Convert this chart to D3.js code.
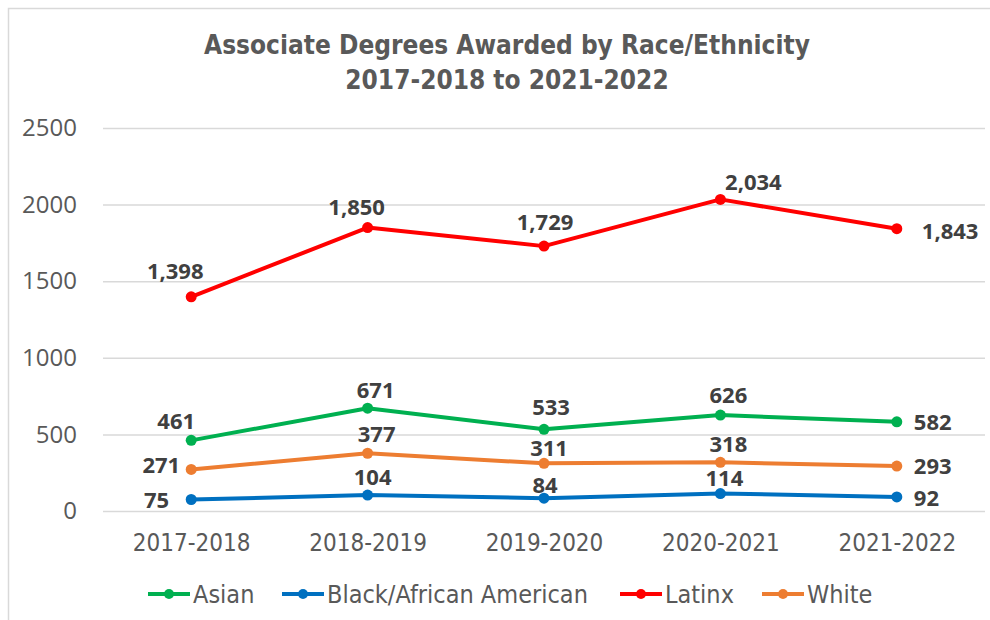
<!DOCTYPE html>
<html lang="en">
<head>
<meta charset="utf-8">
<title>Associate Degrees Awarded by Race/Ethnicity</title>
<script src="https://cdn.jsdelivr.net/npm/d3@7"></script>
<style>
  body { margin: 0; background: #fff; }
  .narrow { font-family: "Liberation Sans Narrow", "Arial Narrow", "DejaVu Sans Condensed", sans-serif; }
  .ui { font-family: "Open Sans", "Noto Sans", sans-serif; }
</style>
</head>
<body>
<script>
// data
var years = ["2017-2018", "2018-2019", "2019-2020", "2020-2021", "2021-2022"];
var seriesNames = ["Asian", "Black/African American", "Latinx", "White"];
var asian = [461, 671, 533, 626, 582];
var black = [75, 104, 84, 114, 92];
var latinx = [1398, 1850, 1729, 2034, 1843];
var white = [271, 377, 311, 318, 293];
var yTicks = [0, 500, 1000, 1500, 2000, 2500];

var colors = ["#00b050", "#0070c0", "#ff0000", "#ed7d31"];

// label placement per series: [dx, dy, anchor]
var labelPlace = [
  [[-15, -19, "middle"], [8, -18, "middle"], [7, -22, "middle"], [8, -20, "middle"], [17, 0, "start"]],
  [[-22, 1, "end"], [5, -18, "middle"], [1, -13, "middle"], [4, -15, "middle"], [17, 1, "start"]],
  [[-16, -26, "middle"], [-11, -21, "middle"], [1, -24, "middle"], [33, -17, "middle"], [25, 2, "start"]],
  [[-11, -4, "end"], [9, -19, "middle"], [5, -15, "middle"], [8, -18, "middle"], [17, 0, "start"]]
];

var series = [asian, black, latinx, white].map(function(vals, i) {
  return {name: seriesNames[i], color: colors[i], values: vals};
});

var width = 990, height = 620;
var svg = d3.select("body").append("svg")
  .attr("width", width)
  .attr("height", height);

// chart frame
svg.append("rect")
  .attr("x", 8.5).attr("y", 8.5)
  .attr("width", 1200).attr("height", 1200)
  .attr("fill", "none")
  .attr("stroke", "#d9d9d9")
  .attr("stroke-width", 1.5);

var xScale = d3.scalePoint()
  .domain(years)
  .range([103, 985])
  .padding(0.5);

var yScale = d3.scaleLinear()
  .domain([0, 2500])
  .range([511, 128]);

// title
var title = svg.append("text")
  .attr("class", "narrow")
  .attr("text-anchor", "middle")
  .attr("fill", "#595959")
  .attr("font-weight", "bold")
  .attr("font-size", 26);
title.append("tspan").attr("x", 507).attr("y", 54).text("Associate Degrees Awarded by Race/Ethnicity");
title.append("tspan").attr("x", 507).attr("y", 89).text("2017-2018 to 2021-2022");

// gridlines + y axis
var yAxis = d3.axisLeft(yScale)
  .tickValues(yTicks)
  .tickSize(-(985 - 103))
  .tickPadding(26)
  .tickFormat(d3.format("d"));

var gy = svg.append("g")
  .attr("transform", "translate(103,0)")
  .call(yAxis);
gy.select(".domain").remove();
gy.selectAll(".tick line").attr("stroke", "#d9d9d9").attr("stroke-width", 1.5);
gy.selectAll(".tick text")
  .attr("class", "ui")
  .attr("fill", "#595959")
  .attr("font-size", 24);

// x axis labels
var xAxis = d3.axisBottom(xScale).tickSize(0).tickPadding(23);
var gx = svg.append("g")
  .attr("transform", "translate(0,511)")
  .call(xAxis);
gx.select(".domain").remove();
gx.selectAll(".tick text")
  .attr("class", "narrow")
  .attr("fill", "#595959")
  .attr("font-size", 24);

// lines
var line = d3.line()
  .x(function(d, i) { return xScale(years[i]); })
  .y(function(d) { return yScale(d); });

var groups = svg.selectAll(".series")
  .data(series)
  .enter().append("g")
  .attr("class", "series");

groups.append("path")
  .attr("d", function(d) { return line(d.values); })
  .attr("fill", "none")
  .attr("stroke", function(d) { return d.color; })
  .attr("stroke-width", 4)
  .attr("stroke-linejoin", "round");

groups.selectAll("circle")
  .data(function(d) { return d.values.map(function(v) { return {v: v, c: d.color}; }); })
  .enter().append("circle")
  .attr("cx", function(d, i) { return xScale(years[i]); })
  .attr("cy", function(d) { return yScale(d.v); })
  .attr("r", 5.5)
  .attr("fill", function(d) { return d.c; });

// data labels
var fmt = d3.format(",");
groups.each(function(s, si) {
  d3.select(this).selectAll(".lbl")
    .data(s.values)
    .enter().append("text")
    .attr("class", "ui")
    .attr("x", function(d, i) { return xScale(years[i]) + labelPlace[si][i][0]; })
    .attr("y", function(d, i) { return yScale(d) + labelPlace[si][i][1]; })
    .attr("dy", "0.36em")
    .attr("text-anchor", function(d, i) { return labelPlace[si][i][2]; })
    .attr("fill", "#404040")
    .attr("font-weight", "bold")
    .attr("font-size", 22)
    .text(function(d) { return fmt(d); });
});

// legend
var legendX = [148, 282, 620, 762];
var legend = svg.selectAll(".legend")
  .data(series)
  .enter().append("g")
  .attr("transform", function(d, i) { return "translate(" + legendX[i] + ",594)"; });

legend.append("line")
  .attr("x1", 0).attr("x2", 42)
  .attr("stroke", function(d) { return d.color; })
  .attr("stroke-width", 4);
legend.append("circle")
  .attr("cx", 21).attr("r", 5)
  .attr("fill", function(d) { return d.color; });
legend.append("text")
  .attr("class", "narrow")
  .attr("x", 45)
  .attr("dy", "0.35em")
  .attr("fill", "#595959")
  .attr("font-size", 25)
  .text(function(d) { return d.name; });
</script>
</body>
</html>
